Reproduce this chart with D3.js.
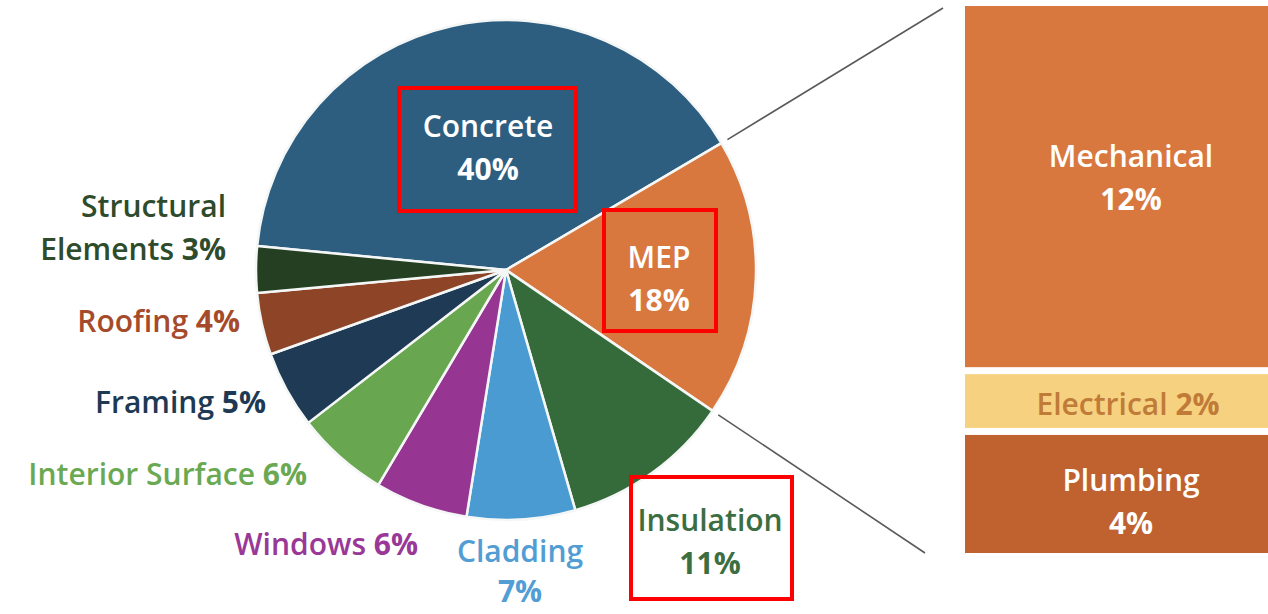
<!DOCTYPE html>
<html>
<head>
<meta charset="utf-8">
<script src="https://cdn.jsdelivr.net/npm/d3@7"></script>
<style>
  html, body { margin: 0; padding: 0; background: #ffffff; }
  svg { display: block; }
  text { font-family: "Open Sans", "DejaVu Sans", sans-serif; }
</style>
</head>
<body>
<svg id="chart" width="1268" height="614"></svg>
<script>
// ---- data ----
const categories = ["Concrete", "MEP", "Insulation", "Cladding", "Windows", "Interior Surface", "Framing", "Roofing", "Structural Elements"];
const shares = [40, 18, 11, 7, 6, 6, 5, 4, 3];
const mepParts = ["Mechanical", "Electrical", "Plumbing"];
const mepShares = [12, 2, 4];

// ---- styles ----
const sliceColors = ["#2d5e80", "#d8783e", "#356b3b", "#4b9bd3", "#973592", "#68a750", "#1f3a54", "#8e4426", "#243f21"];
const labelColors = ["#ffffff", "#ffffff", "#3d6e41", "#529dd4", "#993896", "#6aa952", "#1e3953", "#a54b2b", "#2e4b2c"];
const partColors = ["#d8783e", "#f6d17f", "#c0622f"];
const partLabelColors = ["#ffffff", "#c07b39", "#ffffff"];

// ---- layout ----
const W = 1268, H = 614;
const cx = 506, cy = 270, R = 250;
const startDeg = -84.5;
const fontSize = 30, lineGap = 43;

// label layout: [x, firstBaseline, anchor, mode, lineGap]
const labelLayout = {
  "Concrete": [488, 137, "middle", true, 43],
  "MEP": [659, 268, "middle", true, 43],
  "Insulation": [710, 531, "middle", true, 43],
  "Cladding": [520, 562, "middle", true, 40],
  "Windows": [418, 555, "end", false, 43],
  "Interior Surface": [307, 485, "end", false, 43],
  "Framing": [266, 413, "end", false, 43],
  "Roofing": [240, 332, "end", false, 43],
  "Structural Elements": [226, 217, "end", "split", 43]
};
const partLayout = {
  "Mechanical": [1131, 167, true],
  "Electrical": [1128, 415, false],
  "Plumbing": [1131, 491, true]
};
const highlightBoxes = [
  { x0: 399, y0: 88, x1: 576, y1: 211 },
  { x0: 604, y0: 210, x1: 716, y1: 331 },
  { x0: 631, y0: 477, x1: 792, y1: 599 }
];

const svg = d3.select("#chart");

// ---- pie ----
const data = categories.map((c, i) => ({ name: c, value: shares[i], i }));
const a0 = startDeg * Math.PI / 180;
const pie = d3.pie().sort(null).value(d => d.value).startAngle(a0).endAngle(a0 + 2 * Math.PI);
const arcs = pie(data);
const arc = d3.arc().innerRadius(0).outerRadius(R);

const g = svg.append("g").attr("transform", `translate(${cx},${cy})`);
g.selectAll("path").data(arcs).join("path")
  .attr("d", arc)
  .attr("fill", d => sliceColors[d.data.i])
  .attr("stroke", "#f4f7f6")
  .attr("stroke-width", 2.5)
  .attr("stroke-linejoin", "round");

// ---- connector lines from MEP slice edges to the breakdown bar ----
const mepArc = arcs[1];
const polar = (ang, r) => [cx + r * Math.sin(ang), cy - r * Math.cos(ang)];
const lineEnds = [[943, 8], [925, 553]];
[mepArc.startAngle, mepArc.endAngle].forEach((ang, k) => {
  const p = polar(ang, R + 7);
  svg.append("line")
    .attr("x1", p[0]).attr("y1", p[1])
    .attr("x2", lineEnds[k][0]).attr("y2", lineEnds[k][1])
    .attr("stroke", "#5a5a5a").attr("stroke-width", 1.6);
});

// ---- breakdown bar ----
const y = d3.scaleLinear().domain([0, d3.sum(mepShares)]).range([6, 553]);
const barX = 965, barW = 340, gap = 3.5;
let cum = 0;
const stacked = mepParts.map((p, i) => {
  const s = { name: p, value: mepShares[i], i, y0: cum, y1: cum + mepShares[i] };
  cum += mepShares[i];
  return s;
});
svg.selectAll("rect.part").data(stacked).join("rect")
  .attr("class", "part")
  .attr("x", barX)
  .attr("y", d => y(d.y0) + (d.i > 0 ? gap : 0))
  .attr("width", barW)
  .attr("height", d => y(d.y1) - y(d.y0) - (d.i > 0 ? gap : 0) - (d.i < stacked.length - 1 ? gap : 0))
  .attr("fill", d => partColors[d.i]);

stacked.forEach(d => {
  const [x, b, multi] = partLayout[d.name];
  const t = svg.append("text")
    .attr("x", x).attr("y", b)
    .attr("text-anchor", "middle")
    .attr("font-size", fontSize)
    .attr("fill", partLabelColors[d.i]);
  if (multi) {
    t.append("tspan").attr("font-weight", 600).text(d.name);
    t.append("tspan").attr("x", x).attr("dy", lineGap).attr("font-weight", 700).text(d.value + "%");
  } else {
    t.append("tspan").attr("font-weight", 600).text(d.name + " ");
    t.append("tspan").attr("font-weight", 700).text(d.value + "%");
  }
});

// ---- pie labels ----
data.forEach(d => {
  const [x, b, anchor, mode, lg] = labelLayout[d.name];
  const t = svg.append("text")
    .attr("x", x).attr("y", b)
    .attr("text-anchor", anchor)
    .attr("font-size", fontSize)
    .attr("fill", labelColors[d.i]);
  if (mode === true) {
    t.append("tspan").attr("font-weight", 600).text(d.name);
    t.append("tspan").attr("x", x).attr("dy", lg).attr("font-weight", 700).text(d.value + "%");
  } else if (mode === "split") {
    const words = d.name.split(" ");
    t.append("tspan").attr("font-weight", 600).text(words[0]);
    t.append("tspan").attr("x", x).attr("dy", lg).attr("font-weight", 600).text(words.slice(1).join(" ") + " ");
    t.append("tspan").attr("font-weight", 700).text(d.value + "%");
  } else {
    t.append("tspan").attr("font-weight", 600).text(d.name + " ");
    t.append("tspan").attr("font-weight", 700).text(d.value + "%");
  }
});

// ---- highlight boxes ----
svg.selectAll("rect.hl").data(highlightBoxes).join("rect")
  .attr("class", "hl")
  .attr("x", d => d.x0).attr("y", d => d.y0)
  .attr("width", d => d.x1 - d.x0).attr("height", d => d.y1 - d.y0)
  .attr("fill", "none")
  .attr("stroke", "#ff0000")
  .attr("stroke-width", 4);
</script>
</body>
</html>
